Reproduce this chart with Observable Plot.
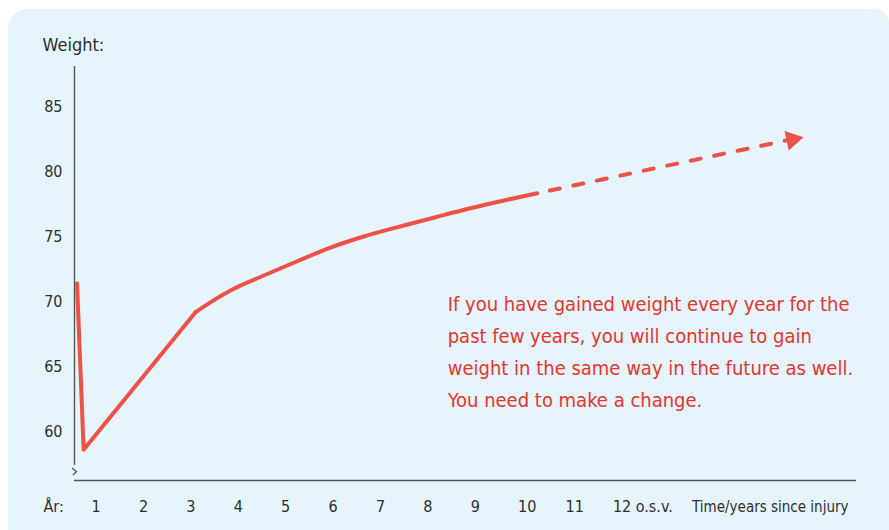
<!DOCTYPE html>
<html>
<head>
<meta charset="utf-8">
<script src="https://cdn.jsdelivr.net/npm/d3@7"></script>
<script src="https://cdn.jsdelivr.net/npm/@observablehq/plot@0.6"></script>
<style>
  html, body { margin: 0; padding: 0; background: #ffffff; }
  #wrap { position: relative; width: 889px; height: 530px; overflow: hidden; }
  #panel { position: absolute; left: 8px; top: 9px; width: 881px; height: 521px;
           background: #e6f4fb; border-radius: 20px 14px 0 0; }
  #chart { position: absolute; left: 0; top: 0; }
  #chart svg { overflow: visible; }
</style>
</head>
<body>
<div id="wrap"><div id="panel"></div><div id="chart"></div></div>
<script>
// ---- data ----
const solidYears   = [0.61, 0.75, 3.11];
const solidWeights = [71.4, 58.6, 69.18];
const curveYears   = [3.11, 3.215, 3.848, 4.551, 5.255, 5.958, 6.66, 7.504, 8.209, 8.911, 9.614, 10.318];
const curveWeights = [69.18, 69.44, 70.85, 72.0, 73.1, 74.15, 75.0, 75.85, 76.52, 77.17, 77.77, 78.33];
const dashYears    = [10.318, 15.56];
const dashWeights  = [78.33, 82.38];
const arrowYears   = [15.70];
const arrowWeights = [82.46];
const xTickValues  = [1, 2, 3, 4, 5, 6, 7, 8, 9, 10, 11, 12];
const xTickLabels  = ["1", "2", "3", "4", "5", "6", "7", "8", "9", "10", "11", "12 o.s.v."];
const yTickValues  = [60, 65, 70, 75, 80, 85];
const yTitle = "Weight:";
const xPrefix = "År:";
const xTitle = "Time/years since injury";
const noteLines = [
  "If you have gained weight every year for the",
  "past few years, you will continue to gain",
  "weight in the same way in the future as well.",
  "You need to make a change."
];
const noteYear = 8.43, noteWeight = 71.05;

const solid = solidYears.map((x, i) => ({x, y: solidWeights[i]}));
const curve = curveYears.map((x, i) => ({x, y: curveWeights[i]}));
const dash  = dashYears.map((x, i) => ({x, y: dashWeights[i]}));
const head  = arrowYears.map((x, i) => ({x, y: arrowWeights[i]}));
const xTicks = xTickValues.map((v, i) => ({v, label: xTickLabels[i]}));

const FONT = "'Liberation Sans Narrow', 'DejaVu Sans Condensed', 'Roboto Condensed', 'Liberation Sans', sans-serif";
const RED = "#ef5147";
const TXT = "#2f2f2f";
const xDomain = [0.557, 17.055];
const yDomain = [56.23, 88.08];

const breakMark = (index, scales, values, dims) => {
  const g = document.createElementNS("http://www.w3.org/2000/svg", "path");
  const x0 = dims.marginLeft;
  const yb = dims.height - dims.marginBottom;
  g.setAttribute("d", `M${x0 - 2},${yb - 12} L${x0 + 2.5},${yb - 8.5} L${x0 - 1},${yb - 5}`);
  g.setAttribute("fill", "none");
  g.setAttribute("stroke", "#555");
  g.setAttribute("stroke-width", "1.3");
  return g;
};

const chart = Plot.plot({
  width: 889,
  height: 530,
  marginLeft: 74,
  marginRight: 33,
  marginTop: 66,
  marginBottom: 50,
  style: { fontFamily: FONT, background: "transparent", overflow: "visible" },
  x: { domain: xDomain, axis: null },
  y: { domain: yDomain, axis: null },
  marks: [
    Plot.ruleY([yDomain[0]], { x1: xDomain[0], x2: xDomain[1], stroke: "#555", strokeWidth: 1.4 }),
    Plot.ruleX([xDomain[0]], { y1: 57.4, y2: yDomain[1], stroke: "#555", strokeWidth: 1.4 }),
    breakMark,
    Plot.text(yTickValues, { y: d => d, frameAnchor: "left", text: d => String(d), textAnchor: "end",
      dx: -12, fontSize: 16, fill: TXT }),
    Plot.text(xTicks, { x: "v", frameAnchor: "bottom", text: "label", textAnchor: "start", lineAnchor: "bottom",
      dx: -4, dy: 31, fontSize: 16, fill: TXT }),
    Plot.text([xPrefix], { frameAnchor: "bottom-left", textAnchor: "start", lineAnchor: "bottom",
      dx: -31, dy: 31, fontSize: 16, fill: TXT }),
    Plot.text([xTitle], { frameAnchor: "bottom-right", textAnchor: "end", lineAnchor: "bottom",
      dx: -8, dy: 31, fontSize: 15, fill: TXT }),
    Plot.text([yTitle], { frameAnchor: "top-left", textAnchor: "start", lineAnchor: "bottom",
      dx: -32, dy: -15.5, fontSize: 18, fill: TXT }),
    Plot.line(solid, { x: "x", y: "y", stroke: RED, strokeWidth: 4, strokeLinejoin: "round", strokeLinecap: "round" }),
    Plot.line(curve, { x: "x", y: "y", stroke: RED, strokeWidth: 4, curve: "monotone-x", strokeLinecap: "round" }),
    Plot.line(dash, { x: "x", y: "y", stroke: RED, strokeWidth: 4, strokeDasharray: "10,14", strokeDashoffset: 11, strokeLinecap: "round" }),
    Plot.dot(head, { x: "x", y: "y", symbol: "triangle", r: 7.4, fill: RED, stroke: "none", rotate: 78 }),
    Plot.text([noteLines.join("\n")], { x: () => noteYear, y: () => noteWeight, textAnchor: "start", lineAnchor: "top",
      lineHeight: 1.6, fontSize: 20, fill: "#e8352d" })
  ]
});
document.getElementById("chart").appendChild(chart);
</script>
</body>
</html>
